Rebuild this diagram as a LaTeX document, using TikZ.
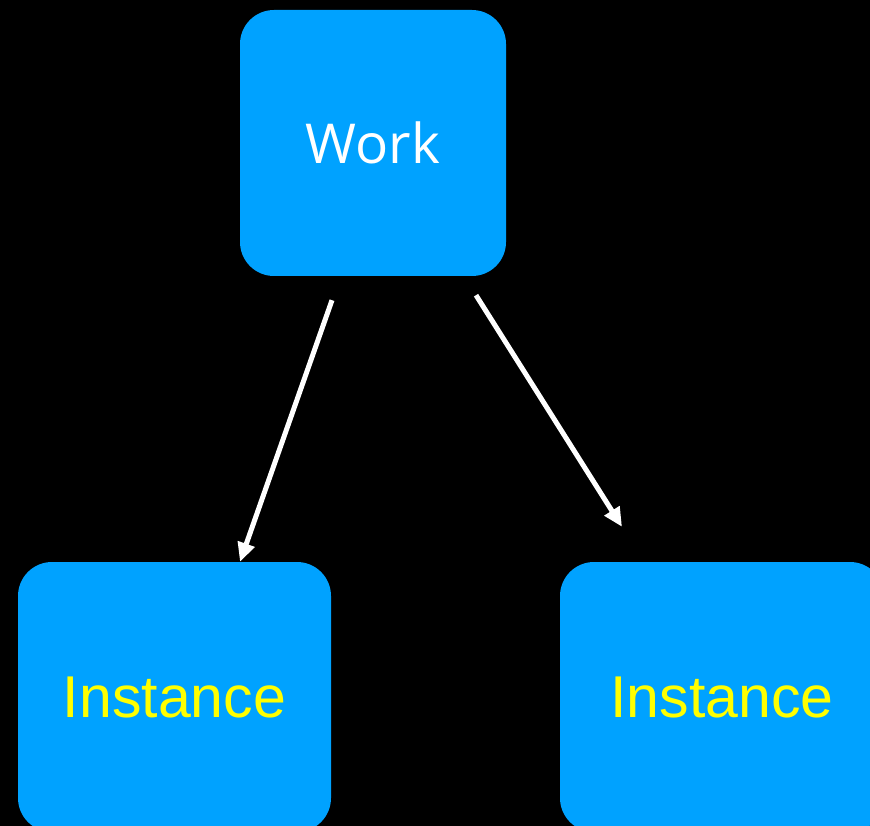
\documentclass[tikz,border=0pt]{standalone}
\usepackage{fontspec}
\setmainfont{Liberation Sans}
\newfontfamily\workfont{Open Sans}
\usetikzlibrary{arrows.meta,calc}
\definecolor{boxblue}{RGB}{0,162,255}
\definecolor{labelyellow}{RGB}{255,255,0}
\tikzset{
  card/.style={fill=boxblue, rounded corners=34pt, inner sep=0pt,
    font=\fontsize{59}{60}\selectfont},
  link/.style={draw=white, line width=5pt,
    -{Triangle[length=19pt,width=17pt]}}
}

\begin{document}
\begin{tikzpicture}[x=1pt,y=-1pt]
    % black page, 870 x 826
    \fill[black] (0,0) rectangle (870,826);
    \useasboundingbox (0,0) rectangle (870,826);
    \clip (0,0) rectangle (870,826);

    \node[card, minimum width=266pt, minimum height=266pt, text=white,
      font=\workfont\fontsize{55}{56}\selectfont] (work) at (373,143) {Work};
    \node[card, minimum width=313pt, minimum height=270pt,
      text=labelyellow] (leftinst) at (174.5,697) {Instance};
    \node[card, minimum width=324pt, minimum height=270pt,
      text=labelyellow] (rightinst) at (722,697) {Instance};

    % arrow ends
    \coordinate (ls) at ($(work.south)+(-41,24)$);
    \coordinate (le) at ($(leftinst.north)+(65.5,0)$);
    \coordinate (rs) at ($(work.south)+(103,19)$);
    \coordinate (re) at ($(rightinst.north)+(-100,-35)$);
    \draw[link] (ls) -- (le);
    \draw[link] (rs) -- (re);
\end{tikzpicture}
\end{document}
